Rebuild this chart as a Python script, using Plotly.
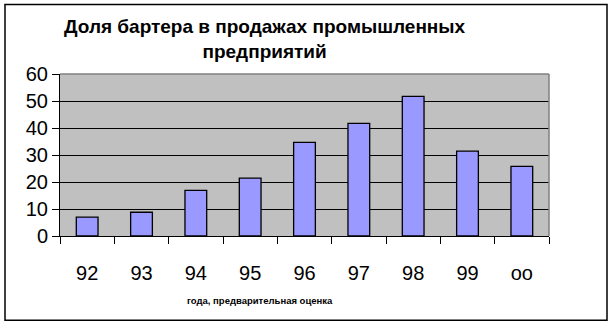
import plotly.graph_objects as go

categories = ["92", "93", "94", "95", "96", "97", "98", "99", "oo"]
values = [7, 8.8, 16.9, 21.4, 34.7, 41.7, 51.7, 31.4, 25.8]
y_ticks = [0, 10, 20, 30, 40, 50, 60]

title_text = "Доля бартера в продажах промышленных<br>предприятий"
x_title = "года, предварительная оценка"

fig = go.Figure()
fig.add_trace(go.Bar(
    x=categories, y=values,
    marker=dict(color="#9999FF", line=dict(color="black", width=1.3)),
    width=0.4,
))

FONT = "Liberation Sans, Arial, sans-serif"

fig.update_layout(
    width=612, height=325,
    margin=dict(l=60, r=63, t=74, b=89),
    paper_bgcolor="white",
    plot_bgcolor="#C0C0C0",
    showlegend=False,
    font=dict(family=FONT, color="black"),
    bargap=0.6,
)

fig.update_xaxes(
    type="category",
    tickson="boundaries",
    ticks="outside", ticklen=7, tickcolor="black", tickwidth=1,
    showline=True, linecolor="black", linewidth=1,
    showgrid=False,
    tickfont=dict(size=20, family=FONT, color="black"),
    ticklabelstandoff=19,
)
fig.update_yaxes(
    range=[0, 60],
    tickvals=y_ticks,
    ticks="outside", ticklen=7, tickcolor="black", tickwidth=1,
    showline=True, linecolor="black", linewidth=1,
    showgrid=True, gridcolor="black", gridwidth=1,
    zeroline=False,
    tickfont=dict(size=20, family=FONT, color="black"),
)

# plot area border (gray, top & right)
fig.add_shape(type="line", xref="paper", yref="paper", x0=0, x1=1, y0=1, y1=1,
              line=dict(color="#808080", width=1.5), layer="above")
fig.add_shape(type="line", xref="paper", yref="paper", x0=1, x1=1, y0=0, y1=1,
              line=dict(color="#808080", width=1.5), layer="above")

# chart frame
fig.add_shape(type="rect", xref="paper", yref="paper",
              x0=(5 - 60) / 489, x1=(607 - 60) / 489,
              y0=(236 - 320) / 161.7, y1=(236 - 5) / 161.7,
              line=dict(color="black", width=1.5), layer="above")

fig.add_annotation(
    text=title_text, xref="paper", yref="paper",
    x=(265 - 60) / 489, y=(236 - 39) / 161.7,
    showarrow=False, xanchor="center", yanchor="middle",
    font=dict(size=19, family=FONT, color="black", weight="bold"),
    align="center",
)
fig.add_annotation(
    text=x_title, xref="paper", yref="paper",
    x=(260 - 60) / 489, y=(236 - 300.5) / 161.7,
    showarrow=False, xanchor="center", yanchor="middle",
    font=dict(size=9.5, family=FONT, color="black", weight="bold"),
)

fig.write_html("out.html")
